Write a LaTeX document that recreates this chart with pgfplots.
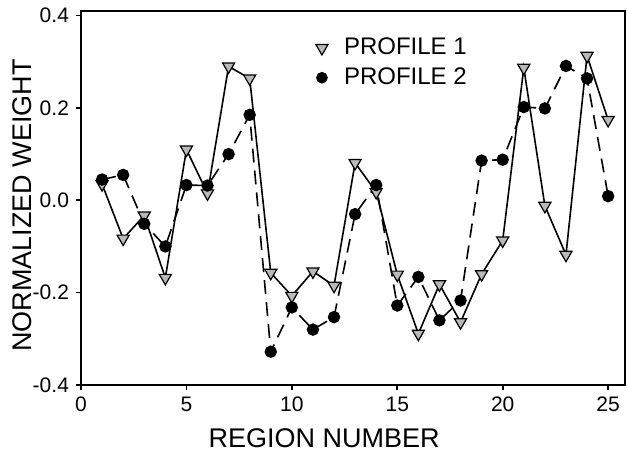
\documentclass[border=0pt]{standalone}
\usepackage{fontspec}
\setmainfont{Liberation Sans}
\usepackage{pgfplots}
\pgfplotsset{compat=1.18}
\begin{document}
\begin{tikzpicture}
\begin{axis}[
  scale only axis,
  width=272pt, height=187pt,
  xmin=0, xmax=25.8,
  ymin=-0.4, ymax=0.41,
  xtick={0,5,10,15,20,25},
  ytick={-0.4,-0.2,0,0.2,0.4},
  yticklabel style={/pgf/number format/.cd, fixed, fixed zerofill, precision=1},
  /pgf/number format/assume math mode=true,
  tick pos=left,
  tick align=outside,
  major tick length=2.5pt,
  tick style={line width=0.8pt, black},
  axis line style={line width=1pt},
  ticklabel style={font=\fontsize{10.5}{12}\selectfont},
  xlabel={REGION NUMBER},
  ylabel={NORMALIZED WEIGHT},
  label style={font=\fontsize{13.5}{16}\selectfont},
  xlabel style={at={(axis description cs:0.447,0)}, yshift=-26.5pt, anchor=center},
  ylabel style={at={(axis description cs:0,0.48)}, yshift=29.5pt, xshift=0pt, anchor=center},
  legend style={at={(axis description cs:0.42,0.95)}, anchor=north west, draw=none, fill=none,
    font=\fontsize{12}{15}\selectfont, row sep=1pt},
  legend cell align=left,
]
\addlegendimage{only marks, mark=triangle*, mark size=3.5pt, mark options={rotate=180, fill=gray!55, draw=black, line width=0.6pt}}
\addlegendentry{\hspace{6pt}PROFILE 1}
\addlegendimage{only marks, mark=*, mark size=2.7pt, mark options={fill=black, draw=black}}
\addlegendentry{\hspace{6pt}PROFILE 2}
\addplot[forget plot, black, line width=0.8pt, mark=triangle*, mark size=3.5pt,
  mark options={rotate=180, fill=gray!55, draw=black, line width=0.6pt, solid}] coordinates {
(1,0.035) (2,-0.083) (3,-0.033) (4,-0.168) (5,0.11) (6,0.015) (7,0.29) (8,0.264)
(9,-0.157) (10,-0.207) (11,-0.154) (12,-0.185) (13,0.081) (14,0.018) (15,-0.161)
(16,-0.289) (17,-0.182) (18,-0.264) (19,-0.16) (20,-0.087) (21,0.287) (22,-0.012)
(23,-0.118) (24,0.313) (25,0.174)
};
\addplot[forget plot, black, line width=0.8pt, dash pattern=on 7pt off 4pt, mark=*, mark size=2.7pt,
  mark options={fill=black, draw=black, solid}] coordinates {
(1,0.045) (2,0.055) (3,-0.051) (4,-0.1) (5,0.033) (6,0.032) (7,0.1) (8,0.185)
(9,-0.328) (10,-0.232) (11,-0.28) (12,-0.253) (13,-0.03) (14,0.033) (15,-0.228)
(16,-0.166) (17,-0.26) (18,-0.217) (19,0.086) (20,0.088) (21,0.202) (22,0.199)
(23,0.291) (24,0.264) (25,0.009)
};
\coordinate (sw) at (rel axis cs:0,0);
\coordinate (ne) at (rel axis cs:1,1);
\end{axis}
\pgfresetboundingbox
\path ([shift={(-40.5pt,-32.5pt)}]sw) rectangle ([shift={(1pt,5.5pt)}]ne);
\end{tikzpicture}
\end{document}
